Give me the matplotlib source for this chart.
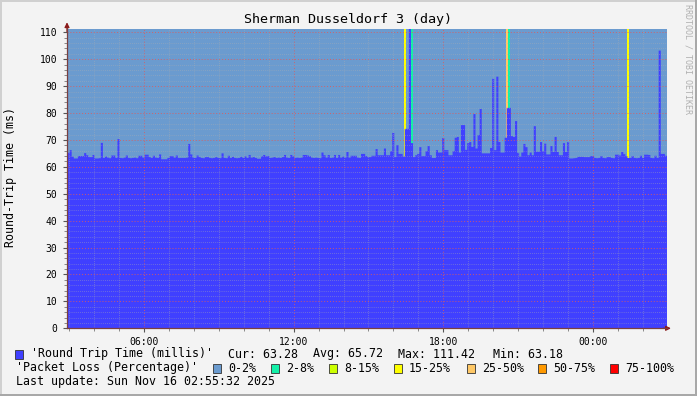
import numpy as np
import matplotlib.pyplot as plt
from matplotlib.patches import Rectangle

# rrdtool look: everything in a monospace font
plt.rcParams['font.family'] = ['DejaVu Sans Mono']

W, H = 697, 396

# time axis in clock hours, first step at 02:56, one step = 5 minutes
t_start = 2.93
step = 1 / 12

# round trip time per 5 minute step (ms), one row = one hour
rtt = [
    65.4, 66.4, 64.0, 63.3, 63.3, 64.2, 64.2, 64.2, 65.3, 64.5, 63.8, 63.8,
    64.6, 63.3, 63.3, 63.4, 69.1, 63.5, 64.0, 63.6, 63.4, 64.4, 64.4, 63.5,
    70.5, 63.5, 63.4, 63.6, 64.4, 63.5, 63.4, 63.5, 63.6, 63.4, 64.3, 64.3,
    63.6, 64.7, 64.7, 63.8, 63.5, 64.3, 63.6, 63.5, 64.8, 63.0, 63.0, 63.0,
    63.5, 64.2, 64.2, 63.6, 64.4, 63.5, 63.5, 63.5, 63.5, 63.6, 68.7, 64.8,
    63.6, 63.5, 64.4, 63.8, 63.5, 63.4, 63.8, 63.8, 63.5, 63.4, 63.5, 63.8,
    63.5, 63.4, 65.2, 63.5, 63.4, 64.3, 63.5, 63.9, 63.5, 63.4, 63.5, 63.9,
    63.5, 64.1, 63.5, 64.6, 63.6, 63.8, 63.5, 63.2, 63.2, 64.1, 64.6, 64.1,
    64.2, 63.5, 63.6, 63.8, 63.5, 63.6, 63.5, 63.8, 64.6, 63.6, 63.5, 64.6,
    64.1, 63.5, 63.6, 63.5, 63.6, 64.6, 64.6, 64.4, 64.1, 63.6, 63.5, 63.6,
    63.5, 63.4, 65.5, 64.5, 63.6, 64.6, 63.5, 63.6, 64.6, 63.5, 64.6, 63.6,
    64.0, 63.6, 65.7, 63.6, 64.3, 64.3, 64.3, 63.6, 63.5, 65.0, 65.0, 64.2,
    63.8, 63.8, 64.3, 64.3, 66.8, 64.5, 64.5, 64.5, 67.0, 64.5, 64.5, 66.0,
    72.8, 63.8, 68.3, 65.0, 65.0, 64.0, 74.3, 74.3, 111.42, 69.0, 63.8, 64.5,
    65.0, 67.5, 64.2, 64.2, 66.0, 67.9, 64.5, 63.5, 63.5, 66.4, 65.5, 65.5,
    70.9, 66.4, 66.4, 64.5, 64.5, 66.0, 71.0, 71.3, 65.5, 75.7, 75.7, 66.5,
    69.0, 69.4, 67.6, 79.8, 67.0, 72.0, 81.7, 65.2, 65.2, 65.2, 65.2, 67.2,
    92.9, 66.4, 93.7, 69.4, 65.5, 65.5, 71.0, 82.1, 82.1, 71.6, 71.3, 77.2,
    65.4, 64.0, 65.5, 68.7, 67.5, 64.5, 65.5, 64.5, 75.3, 65.8, 65.8, 69.4,
    66.0, 68.8, 64.8, 64.8, 67.9, 65.7, 71.3, 65.7, 64.5, 64.5, 69.0, 65.7,
    69.4, 63.3, 63.3, 63.4, 63.5, 63.9, 63.9, 63.9, 63.8, 63.8, 63.8, 64.2,
    64.2, 63.5, 63.4, 63.5, 64.2, 63.5, 63.4, 63.8, 63.8, 63.5, 63.4, 64.7,
    64.7, 64.4, 65.7, 64.9, 64.2, 63.5, 63.5, 64.2, 63.5, 63.4, 63.5, 64.3,
    63.5, 64.7, 64.7, 64.6, 63.5, 63.4, 64.3, 63.5, 103.4, 65.0, 65.0, 64.3,
]

# packet loss: all steps at 0 % except these
loss_idx = [162, 165, 211, 212, 269]
loss_pct = [20, 5, 30, 5, 20]

loss_edges = [2, 8, 15, 25, 50, 75]
loss_labels = ['0-2%', '2-8%', '8-15%', '15-25%', '25-50%', '50-75%', '75-100%']
loss_colors = ['#6b9bcf', '#14f0a8', '#ccff00', '#ffff00', '#ffc866', '#ff9900', '#ff0000']

hour_ticks = [6, 12, 18, 24]
hour_labels = ['06:00', '12:00', '18:00', '00:00']

title = 'Sherman Dusseldorf 3 (day)'
ylabel = 'Round-Trip Time (ms)'
rtt_name = "'Round Trip Time (millis)'"
rtt_stats = ['Cur: 63.28', 'Avg: 65.72', 'Max: 111.42', 'Min: 63.18']
loss_legend = "'Packet Loss (Percentage)'"
last_update = 'Last update: Sun Nov 16 02:55:32 2025'

rtt_color = '#4040ff'

n = len(rtt)
t = t_start + np.arange(n) * step
loss = np.zeros(n)
loss[loss_idx] = loss_pct
loss_cls = np.searchsorted(loss_edges, loss, side='right')
ymax = max(rtt)


def fx(x):
    return x / W


def fy(y):
    return 1 - y / H


fig = plt.figure(figsize=(W / 100, H / 100), dpi=100, facecolor='#f3f3f3')
ax = fig.add_axes([fx(67), fy(328.3), 599.5 / W, 299.8 / H])

# loss colour behind, full height
ax.bar(t, ymax, width=step, align='edge', color=[loss_colors[c] for c in loss_cls],
       linewidth=0, antialiased=False, zorder=1)
# rtt area on top
ax.fill_between(np.append(t, t[-1] + step), np.append(rtt, rtt[-1]), step='post',
                color=rtt_color, linewidth=0, antialiased=False, zorder=2)

ax.set_xlim(t[0], t[-1] + step)
ax.set_ylim(0, ymax)
ax.set_xticks(hour_ticks)
ax.set_xticklabels(hour_labels)
ax.set_xticks(np.arange(3, 27), minor=True)
ax.set_yticks(np.arange(0, 111, 10))
ax.set_yticks(np.arange(0, 112, 2), minor=True)

ax.set_axisbelow(False)
ax.grid(which='minor', color='#b0b0b0', alpha=0.75, ls=(0, (1, 2)), lw=0.5)
ax.grid(which='major', color='#e05a5a', alpha=0.85, ls=(0, (1, 2)), lw=0.7)

ax.tick_params(which='major', length=3, width=0.8, color='#555555', labelsize=7.05, pad=3)
ax.tick_params(which='minor', length=2, width=0.6, color='#777777')
ax.tick_params(axis='y', which='major', pad=4)

for s in ['top', 'right']:
    ax.spines[s].set_visible(False)
for s in ['left', 'bottom']:
    ax.spines[s].set_color('#7a4040')
    ax.spines[s].set_linewidth(0.9)
    ax.spines[s].set_zorder(4)

# rrdtool axis arrows
ax.annotate('', xy=(0, 1.03), xytext=(0, 0.98), xycoords='axes fraction',
            arrowprops=dict(arrowstyle='-|>', color='#8b1c1c', lw=0.9, mutation_scale=7))
ax.annotate('', xy=(1.012, 0), xytext=(0.99, 0), xycoords='axes fraction',
            arrowprops=dict(arrowstyle='-|>', color='#8b1c1c', lw=0.9, mutation_scale=7))

fig.text(fx(348), fy(19), title, ha='center', va='center', fontsize=9.6)
fig.text(fx(11), fy(177), ylabel, rotation=90, ha='center', va='center', fontsize=8.4)
fig.text(fx(688), fy(4), 'RRDTOOL / TOBI OETIKER', rotation=-90, ha='center', va='top',
         fontsize=6, color='#b0b0b0')

# legend, line 1
fig.add_artist(Rectangle((fx(15), fy(358.5)), 8 / W, 9 / H, transform=fig.transFigure,
                         facecolor=rtt_color, edgecolor='#333333', lw=0.6))
fig.text(fx(31), fy(354), rtt_name, ha='left', va='center', fontsize=8.4)
stat_x = [228, 313, 398, 493]
for sx, s in zip(stat_x, rtt_stats):
    fig.text(fx(sx), fy(354), s, ha='left', va='center', fontsize=8.4)

# legend, line 2
fig.text(fx(16), fy(368), loss_legend, ha='left', va='center', fontsize=8.4)
swatch_x = [213, 271, 329, 394, 467, 538, 610]
for sx, lab, col in zip(swatch_x, loss_labels, loss_colors):
    fig.add_artist(Rectangle((fx(sx), fy(372.5)), 8 / W, 9 / H, transform=fig.transFigure,
                             facecolor=col, edgecolor='#333333', lw=0.6))
    fig.text(fx(sx + 15), fy(368), lab, ha='left', va='center', fontsize=8.4)

fig.text(fx(16), fy(382), last_update, ha='left', va='center', fontsize=8.4)

# shaded frame
fig.add_artist(Rectangle((0, 1 - 2 / H), 1, 2 / H, transform=fig.transFigure, color='#d0d0d0', lw=0))
fig.add_artist(Rectangle((0, 0), 2 / W, 1, transform=fig.transFigure, color='#d0d0d0', lw=0))
fig.add_artist(Rectangle((0, 0), 1, 2 / H, transform=fig.transFigure, color='#a8a8a8', lw=0))
fig.add_artist(Rectangle((1 - 2 / W, 0), 2 / W, 1, transform=fig.transFigure, color='#a8a8a8', lw=0))

fig.savefig('out.png', dpi=100, facecolor=fig.get_facecolor())
